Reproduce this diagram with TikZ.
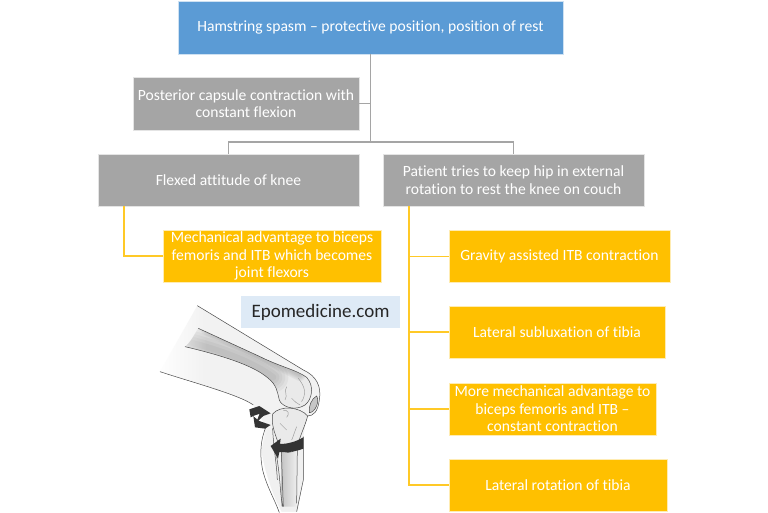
\documentclass[tikz,border=0pt]{standalone}
\usepackage{fontspec}
\usetikzlibrary{fadings}
\setmainfont[Ligatures=NoCommon]{Carlito}
\definecolor{bluebox}{HTML}{5B9BD5}
\definecolor{greybox}{HTML}{A5A5A5}
\definecolor{orangebox}{HTML}{FFC000}
\definecolor{labelbox}{HTML}{DEEAF6}
\definecolor{bone}{HTML}{EAEAEA}
\definecolor{inkline}{HTML}{4A4A4A}
\tikzset{
  flowbox/.style={draw=white!70!#1,line width=.6pt,fill=#1,text=white,align=center,inner sep=0pt,font=\fontsize{15.6}{17.6}\selectfont},
  greyline/.style={draw=greybox,line width=1.3pt},
  orangeline/.style={draw=orangebox!85!white,line width=1.1pt},
  kneeline/.style={draw=inkline,line width=.5pt},
  fineline/.style={draw=gray!80,line width=.45pt},
  softband/.style={draw=gray,opacity=.09,line cap=round},
  arrowshape/.style={fill=inkline!70!black,draw=none},
}
\begin{document}
\begin{tikzpicture}[x=1pt,y=-1pt]
\useasboundingbox (0,0) rectangle (768,513);
\fill[white] (0,0) rectangle (768,513);
% knee illustration
\begin{scope}[shift={(140,290)},x=0.3333pt,y=-0.3333pt]
  % limb soft tissue
  \fill[gray!10] (172,47) -- (490,240) .. controls (530,258) and (545,290) .. (538,330) .. controls (534,365) and (520,378) .. (500,380)
     -- (490,440) -- (490,560) -- (472,665) -- (425,665) .. controls (400,620) and (370,530) .. (365,480) -- (378,410) -- (340,345) .. controls (300,315) and (150,275) .. (60,245) -- cycle;
  % femur
  \fill[bone] (175,115) -- (360,200) .. controls (420,230) and (470,240) .. (500,262) .. controls (525,290) and (515,330) .. (495,345) .. controls (465,365) and (425,350) .. (418,330) .. controls (412,305) and (410,285) .. (385,265) .. controls (340,225) and (240,195) .. (135,170) .. controls (150,160) and (165,130) .. (175,115) -- cycle;
  \begin{scope}
    \clip (175,115) -- (360,200) .. controls (420,230) and (470,240) .. (500,262) .. controls (525,290) and (515,330) .. (495,345) .. controls (465,365) and (425,350) .. (418,330) .. controls (412,305) and (410,285) .. (385,265) .. controls (340,225) and (240,195) .. (135,170) .. controls (150,160) and (165,130) .. (175,115) -- cycle;
    \foreach \w in {6,12,18,24,30}{
      \draw[softband,line width=\w pt] (120,150) .. controls (230,175) and (340,215) .. (400,262);
      \draw[softband,line width=.4*\w pt] (200,118) .. controls (300,165) and (400,215) .. (480,255);
    }
  \end{scope}
  % left fade
  \fill[white,path fading=east] (50,30) rectangle (200,300);
  \draw[fineline] (440,290) .. controls (430,305) and (445,315) .. (435,330) (475,265) .. controls (495,290) and (500,310) .. (485,335) (455,325) .. controls (465,335) and (470,340) .. (480,345);
  % outlines of the femur
  \draw[kneeline] (175,115) -- (360,200) .. controls (420,230) and (470,240) .. (500,262) .. controls (525,290) and (515,330) .. (495,345) .. controls (465,365) and (425,350) .. (418,330);
  \draw[kneeline] (135,170) .. controls (240,195) and (340,225) .. (385,265) .. controls (410,285) and (412,305) .. (418,330);
  % skin outlines
  \draw[kneeline] (172,47) -- (490,240) .. controls (530,258) and (545,290) .. (538,330) .. controls (534,365) and (520,378) .. (503,378);
  \draw[kneeline] (60,245) .. controls (150,275) and (300,315) .. (340,345);
  % patella
  \draw[kneeline,fill=gray!45] (530,318) .. controls (540,335) and (525,368) .. (508,368) .. controls (505,350) and (515,325) .. (530,318) -- cycle;
  % lower leg
  \fill[gray!12] (385,420) -- (490,440) -- (490,560) -- (472,665) -- (425,665) .. controls (400,620) and (370,530) .. (365,480) -- cycle;
  \shade[left color=gray!45,right color=gray!12,draw=none] (425,480) -- (472,480) -- (468,650) -- (425,650) -- cycle;
  \draw[kneeline] (378,410) .. controls (362,450) and (358,490) .. (368,540) .. controls (380,590) and (405,630) .. (418,668);
  \draw[kneeline] (490,440) -- (490,570) -- (470,665);
  \draw[kneeline] (398,415) .. controls (400,470) and (410,520) .. (412,570) (410,500) .. controls (422,570) and (420,610) .. (428,650) (424,480) -- (430,650) (472,480) -- (470,640);
  % tibial head
  \draw[kneeline,fill=bone] (398,372) .. controls (420,345) and (480,350) .. (503,378) .. controls (495,410) and (478,440) .. (470,478) .. controls (450,492) and (425,490) .. (418,470) .. controls (410,440) and (392,410) .. (398,372) -- cycle;
  \draw[fineline] (430,362) .. controls (445,358) and (450,372) .. (440,382) (420,400) .. controls (430,410) and (435,415) .. (440,420) (470,410) .. controls (462,430) and (460,440) .. (455,450);
  % arrows
  \fill[arrowshape] (392,370) -- (358,348) -- (328,358) -- (332,382) -- (340,378) -- (345,412) -- (375,416) -- (392,405) -- (372,398) -- (355,392) -- (370,378) -- cycle;
  \fill[white] (340,378) -- (358,372) -- (352,388) -- cycle;
  \fill[arrowshape] (490,442) -- (490,476) .. controls (465,486) and (435,488) .. (418,486) -- (414,506) -- (392,468) -- (422,446) -- (420,462) .. controls (445,462) and (470,454) .. (490,442) -- cycle;
\end{scope}
% boxes
\node[flowbox=bluebox,minimum width=385pt,minimum height=53pt] (top) at (370.5,27.5) {Hamstring spasm – protective position, position of rest};
\node[flowbox=greybox,minimum width=226pt,minimum height=53pt] (post) at (246,103.5) {Posterior capsule contraction with\\constant flexion};
\node[flowbox=greybox,minimum width=261pt,minimum height=52pt] (flexed) at (228.5,180) {Flexed attitude of knee};
\node[flowbox=greybox,minimum width=261pt,minimum height=52pt] (patient) at (513.5,180) {Patient tries to keep hip in external\\rotation to rest the knee on couch};
\node[flowbox=orangebox,minimum width=218pt,minimum height=52pt] (mech) at (272,256) {Mechanical advantage to biceps\\femoris and ITB which becomes\\joint flexors};
\node[flowbox=orangebox,minimum width=221pt,minimum height=52pt] (grav) at (559.5,256.5) {Gravity assisted ITB contraction};
\node[flowbox=orangebox,minimum width=216pt,minimum height=52pt] (sublux) at (557,332) {Lateral subluxation of tibia};
\node[flowbox=orangebox,minimum width=207pt,minimum height=52pt] (more) at (552.5,409) {More mechanical advantage to\\biceps femoris and ITB –\\constant contraction};
\node[flowbox=orangebox,minimum width=218pt,minimum height=52pt] (rot) at (558,485) {Lateral rotation of tibia};
\node[fill=labelbox,inner sep=0pt,minimum width=159pt,minimum height=32pt,text=black!85,font=\fontsize{19}{22}\selectfont] (epo) at (320.5,312) {Epomedicine.com};
% connectors
\coordinate (hub) at (top.south |- 0,142);
\coordinate (flexfoot) at (124,206);
\coordinate (patfoot) at (409,206);
\draw[greyline] (top.south) -- (hub);
\draw[greyline] (post.east) -- (post.east -| top.south);
\draw[greyline] (flexed.north) |- (hub) -| (patient.north);
\draw[orangeline] (flexfoot) |- (mech.west);
\draw[orangeline] (patfoot) |- (rot.west);
\draw[orangeline] (patfoot |- grav.west) -- (grav.west);
\draw[orangeline] (patfoot |- sublux.west) -- (sublux.west);
\draw[orangeline] (patfoot |- more.west) -- (more.west);
\end{tikzpicture}
\end{document}
